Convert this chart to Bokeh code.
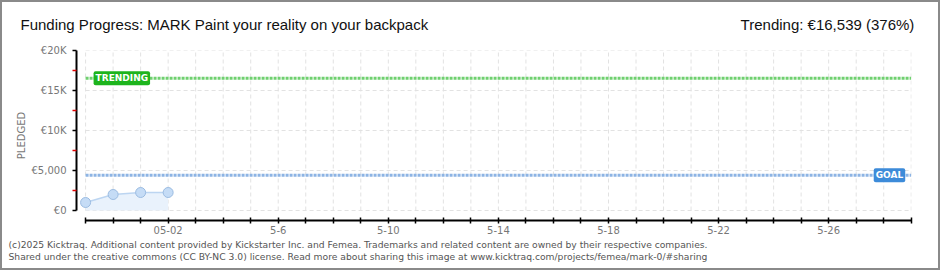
from bokeh.plotting import figure
from bokeh.models import Range1d, FixedTicker, Label
from bokeh.layouts import column
from bokeh.embed import file_html
from bokeh.resources import INLINE
import pandas as pd

# ---- data ----
dates = ["2025-04-29", "2025-04-30", "2025-05-01", "2025-05-02"]
pledged = [1000, 2000, 2250, 2250]
goal = 4400
trending = 16539
trending_pct = 376
start_date = "2025-04-29"
end_date = "2025-05-29"
y_ticks = [0, 5000, 10000, 15000, 20000]
y_minor_ticks = [2500, 7500, 12500, 17500]
y_tick_labels = ["€0", "€5,000", "€10K", "€15K", "€20K"]
x_label_dates = ["2025-05-02", "2025-05-06", "2025-05-10", "2025-05-14",
                 "2025-05-18", "2025-05-22", "2025-05-26"]
x_tick_labels = ["05-02", "5-6", "5-10", "5-14", "5-18", "5-22", "5-26"]

title_text = "Funding Progress: MARK Paint your reality on your backpack"
footer1 = ("(c)2025 Kicktraq. Additional content provided by Kickstarter Inc. and Femea. "
           "Trademarks and related content are owned by their respective companies.")
footer2 = ("Shared under the creative commons (CC BY-NC 3.0) license. Read more about sharing "
           "this image at www.kicktraq.com/projects/femea/mark-0/#sharing")

DAY = 86400000.0


def ms(d):
    return pd.Timestamp(d).value / 1e6


x = [ms(d) for d in dates]
t0 = ms(start_date)
t1 = ms(end_date)
all_days = [ms(d) for d in pd.date_range(start_date, end_date, freq="D")]
label_map = {ms(d): lab for d, lab in zip(x_label_dates, x_tick_labels)}

B = 2                      # outer border width
CW = 940 - 2 * B           # content width
HEAD_H, MAIN_H, FOOT_H = 34, 202, 30   # sums to 266


def text_panel(h):
    f = figure(width=CW, height=h, output_backend="svg", toolbar_location=None,
               x_range=Range1d(0, CW), y_range=Range1d(h, 0),
               x_axis_location=None, y_axis_location=None, frame_align=False,
               min_border=0, background_fill_color="white", border_fill_color="white")
    f.outline_line_color = None
    f.grid.visible = False
    return f


# ---- header ----
head = text_panel(HEAD_H)
head.add_layout(Label(x=20 - B, y=24 - B, text=title_text,
                      text_font="Liberation Sans", text_font_size="15px", text_color="#111111",
                      text_align="left", text_baseline="middle"))
head.add_layout(Label(x=918 - B, y=24 - B,
                      text=f"Trending:  €{trending:,} ({trending_pct}%)",
                      text_font="Liberation Sans", text_font_size="15px", text_color="#111111",
                      text_align="right", text_baseline="middle"))

# ---- main chart ----
top = B + HEAD_H  # page y where main figure starts
p = figure(width=CW, height=MAIN_H, output_backend="svg", toolbar_location=None,
           x_range=Range1d(t0 - 0.33 * DAY, t1 + 0.01 * DAY),
           y_range=Range1d(-1250, 20000), frame_align=False,
           min_border_left=76 - B, min_border_right=CW - (911 - B),
           min_border_top=50 - top, min_border_bottom=(top + MAIN_H) - 220,
           background_fill_color="white", border_fill_color="white")
p.outline_line_color = None
p.xgrid.visible = False
p.ygrid.visible = False

# grid (from tick arrays)
p.segment(x0=all_days, x1=all_days, y0=[y_ticks[0]] * len(all_days), y1=[y_ticks[-1]] * len(all_days),
          line_color="#e2e2e2", line_width=1, line_dash="4 3")
p.segment(x0=[t0] * len(y_ticks), x1=[t1] * len(y_ticks), y0=y_ticks, y1=y_ticks,
          line_color="#e2e2e2", line_width=1, line_dash="4 3")

# trending & goal lines
p.segment(x0=[t0], x1=[t1], y0=[trending], y1=[trending],
          line_color="#6fd06f", line_width=3, line_dash="3 1")
p.segment(x0=[t0], x1=[t1], y0=[goal], y1=[goal],
          line_color="#8db4e4", line_width=3, line_dash="3 1")

# series
p.varea(x=x, y1=[0] * len(x), y2=pledged, fill_color="#e9f2fc")
p.line(x=x, y=pledged, line_color="#bcd5f1", line_width=1.5)
p.scatter(x=x, y=pledged, size=10, fill_color="#c5dcf6", line_color="#9bbce2", line_width=1)

# tag labels
p.add_layout(Label(x=t0, y=trending, x_offset=8, text="TRENDING", text_color="white",
                   text_font="DejaVu Sans", text_font_size="9px", text_font_style="bold",
                   text_align="left", text_baseline="middle",
                   background_fill_color="#1db41d", padding=2, border_radius=2))
p.add_layout(Label(x=t1, y=goal, x_offset=-6, text="GOAL", text_color="white",
                   text_font="DejaVu Sans", text_font_size="9px", text_font_style="bold",
                   text_align="right", text_baseline="middle",
                   background_fill_color="#3d8bd9", padding=2, border_radius=2))

# axes
xa = p.xaxis[0]
xa.ticker = FixedTicker(ticks=all_days)
xa.major_label_overrides = {d: label_map.get(d, "") for d in all_days}
xa.bounds = (t0, t1)
xa.axis_line_width = 2
xa.axis_line_color = "black"
xa.major_tick_in = 3
xa.major_tick_out = 3
xa.major_tick_line_width = 1.5
xa.minor_tick_line_color = None
xa.major_label_standoff = 2
xa.major_label_text_font = "DejaVu Sans"
xa.major_label_text_font_size = "10px"
xa.major_label_text_color = "#777777"

ya = p.yaxis[0]
ya.ticker = FixedTicker(ticks=y_ticks, minor_ticks=y_minor_ticks)
ya.major_label_overrides = {t: lab for t, lab in zip(y_ticks, y_tick_labels)}
ya.bounds = (y_ticks[0], y_ticks[-1])
ya.axis_line_width = 2
ya.axis_line_color = "black"
ya.major_tick_in = 0
ya.major_tick_out = 4
ya.major_tick_line_width = 1.5
ya.minor_tick_in = 0
ya.minor_tick_out = 4
ya.minor_tick_line_color = "#e00000"
ya.minor_tick_line_width = 1.5
ya.major_label_standoff = 6
ya.major_label_text_font = "DejaVu Sans"
ya.major_label_text_font_size = "10px"
ya.major_label_text_color = "#777777"
ya.axis_label = "PLEDGED"
ya.axis_label_text_font = "DejaVu Sans"
ya.axis_label_text_font_size = "10px"
ya.axis_label_text_font_style = "normal"
ya.axis_label_text_color = "#777777"
ya.axis_label_standoff = 2

# ---- footer ----
foot = text_panel(FOOT_H)
ftop = top + MAIN_H
foot.add_layout(Label(x=8 - B, y=244 - ftop, text=footer1,
                      text_font="DejaVu Sans", text_font_size="9.2px", text_color="#555555",
                      text_align="left", text_baseline="middle"))
foot.add_layout(Label(x=8 - B, y=256 - ftop, text=footer2,
                      text_font="DejaVu Sans", text_font_size="9.2px", text_color="#555555",
                      text_align="left", text_baseline="middle"))

layout = column(head, p, foot, spacing=0,
                styles={"border": f"{B}px solid #8a8a8a", "background-color": "white"})

open("out.html", "w").write(file_html(layout, INLINE))
